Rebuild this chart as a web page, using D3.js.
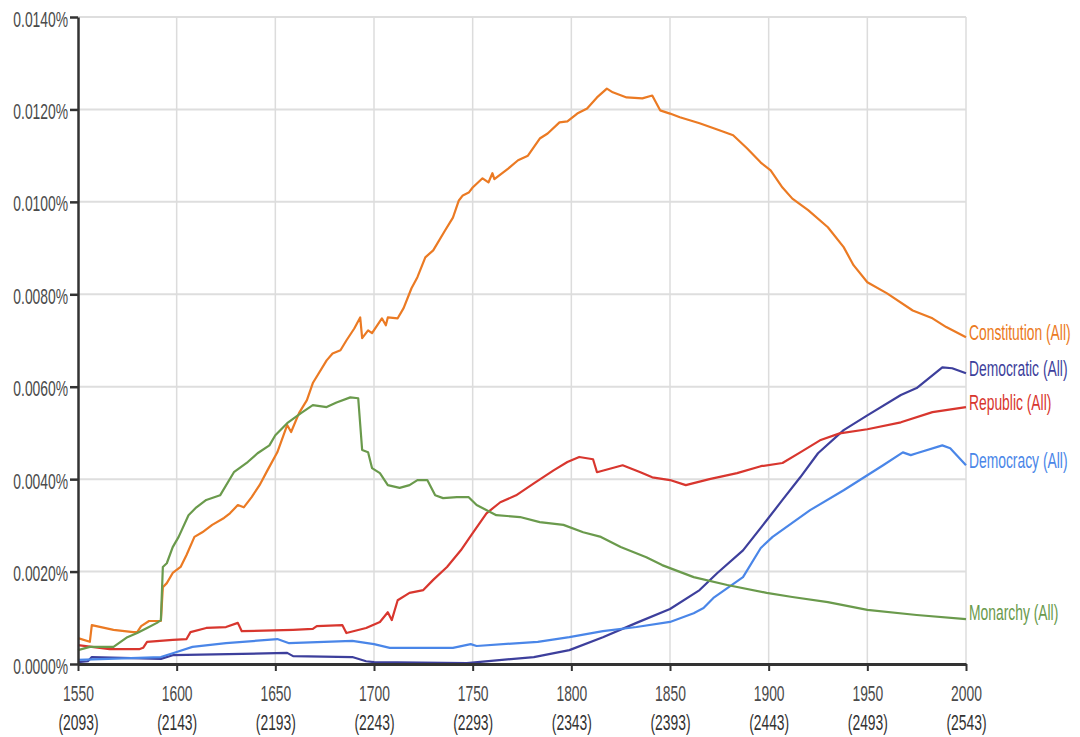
<!DOCTYPE html>
<meta charset="utf-8">
<html>
<head>
<script src="https://d3js.org/d3.v7.min.js"></script>
<style>
    body { margin: 0; background: white; }
    text { font-family: Arial, "Liberation Sans", sans-serif; }
</style>
</head>
<body>
<div id="chart"></div>
<script>
// ticks
var xTicks = [1550, 1600, 1650, 1700, 1750, 1800, 1850, 1900, 1950, 2000];
var xSubLabels = ["(2093)", "(2143)", "(2193)", "(2243)", "(2293)", "(2343)", "(2393)", "(2443)", "(2493)", "(2543)"];
var yTicks = [0, 0.002, 0.004, 0.006, 0.008, 0.010, 0.012, 0.014];

// series: [year, percent]
var constitution = [[1550,0.00056],[1556,0.00048],[1557,0.00084],[1568,0.00074],[1578,0.00069],[1580,0.00069],
    [1582,0.00082],[1586,0.00093],[1592,0.00093],[1593,0.00166],[1595,0.00175],[1598,0.00197],[1602,0.00210],
    [1605,0.00236],[1609,0.00275],[1613,0.00285],[1618,0.00301],[1624,0.00316],[1627,0.00326],[1631,0.00344],
    [1634,0.00339],[1638,0.00361],[1642,0.00387],[1646,0.00419],[1651,0.00458],[1656,0.00517],[1658,0.00502],
    [1662,0.00543],[1666,0.00571],[1669,0.00608],[1676,0.00657],[1679,0.00672],[1683,0.00679],[1686,0.00700],
    [1690,0.00726],[1693,0.00750],[1694,0.00705],[1697,0.00722],[1699,0.00716],[1704,0.00748],[1706,0.00733],
    [1707,0.00750],[1712,0.00748],[1715,0.00770],[1719,0.00813],[1722,0.00837],[1726,0.00880],[1730,0.00895],
    [1736,0.00938],[1740,0.00966],[1743,0.01003],[1745,0.01014],[1748,0.01020],[1750,0.01031],[1755,0.01051],
    [1758,0.01042],[1760,0.01062],[1761,0.01049],[1768,0.01072],[1773,0.01090],[1778,0.01100],[1784,0.01137],
    [1788,0.01148],[1794,0.01172],[1798,0.01174],[1803,0.01191],[1808,0.01202],[1813,0.01226],[1818,0.01245],
    [1821,0.01237],[1828,0.01226],[1836,0.01224],[1841,0.01230],[1845,0.01198],[1850,0.01191],[1855,0.01183],
    [1865,0.01170],[1875,0.01155],[1882,0.01144],[1889,0.01116],[1896,0.01085],[1901,0.01068],[1907,0.01031],
    [1912,0.01007],[1920,0.00982],[1930,0.00945],[1938,0.00902],[1943,0.00863],[1950,0.00826],[1960,0.00802],
    [1973,0.00765],[1983,0.00748],[1990,0.00729],[2000,0.00707]];

var democratic = [[1550,0.00004],[1555,0.00006],[1557,0.00015],[1592,0.00011],[1598,0.00019],[1656,0.00024],
    [1659,0.00017],[1689,0.00015],[1696,0.00006],[1700,0.00004],[1747,0.00002],[1781,0.00015],[1799,0.00030],
    [1816,0.00058],[1833,0.00089],[1850,0.00119],[1865,0.00160],[1874,0.00197],[1887,0.00246],[1899,0.00311],
    [1907,0.00355],[1916,0.00404],[1925,0.00456],[1938,0.00506],[1950,0.00538],[1967,0.00582],[1975,0.00597],
    [1988,0.00642],[1993,0.00640],[2000,0.00629]];

var republic = [[1550,0.00041],[1566,0.00032],[1581,0.00032],[1583,0.00035],[1585,0.00048],[1598,0.00052],
    [1605,0.00054],[1607,0.00069],[1615,0.00078],[1625,0.00080],[1631,0.00089],[1633,0.00071],[1659,0.00074],
    [1669,0.00076],[1671,0.00082],[1684,0.00084],[1686,0.00067],[1696,0.00078],[1703,0.00091],[1707,0.00112],
    [1709,0.00095],[1712,0.00138],[1718,0.00154],[1725,0.00160],[1730,0.00182],[1737,0.00210],[1744,0.00246],
    [1750,0.00283],[1757,0.00326],[1764,0.00350],[1772,0.00365],[1781,0.00391],[1791,0.00419],[1798,0.00437],
    [1804,0.00448],[1811,0.00443],[1813,0.00415],[1826,0.00430],[1835,0.00415],[1841,0.00404],[1850,0.00398],
    [1858,0.00387],[1870,0.00400],[1884,0.00413],[1896,0.00428],[1907,0.00435],[1916,0.00458],[1926,0.00484],
    [1936,0.00499],[1950,0.00508],[1967,0.00523],[1983,0.00545],[2000,0.00556]];

var democracy = [[1550,0.00009],[1592,0.00015],[1600,0.00026],[1608,0.00037],[1625,0.00045],[1651,0.00054],
    [1657,0.00045],[1689,0.00050],[1700,0.00043],[1708,0.00035],[1740,0.00035],[1749,0.00043],[1752,0.00039],
    [1783,0.00048],[1799,0.00058],[1816,0.00071],[1833,0.00080],[1850,0.00091],[1862,0.00110],[1867,0.00121],
    [1872,0.00143],[1887,0.00188],[1896,0.00251],[1902,0.00275],[1921,0.00333],[1938,0.00376],[1958,0.00430],
    [1968,0.00458],[1972,0.00452],[1975,0.00456],[1988,0.00473],[1992,0.00467],[2000,0.00430]];

var monarchy = [[1550,0.00030],[1556,0.00037],[1568,0.00037],[1575,0.00058],[1580,0.00067],[1585,0.00078],
    [1590,0.00089],[1592,0.00095],[1593,0.00210],[1595,0.00218],[1598,0.00253],[1601,0.00275],[1606,0.00322],
    [1610,0.00339],[1615,0.00355],[1622,0.00365],[1629,0.00415],[1636,0.00437],[1641,0.00456],[1647,0.00473],
    [1650,0.00495],[1656,0.00521],[1663,0.00543],[1669,0.00560],[1676,0.00556],[1681,0.00566],[1688,0.00577],
    [1692,0.00575],[1694,0.00463],[1697,0.00458],[1699,0.00424],[1703,0.00413],[1707,0.00387],[1713,0.00381],
    [1718,0.00387],[1722,0.00398],[1727,0.00398],[1731,0.00365],[1735,0.00359],[1742,0.00361],[1748,0.00361],
    [1752,0.00344],[1762,0.00322],[1774,0.00318],[1784,0.00307],[1796,0.00301],[1806,0.00285],[1815,0.00275],
    [1825,0.00253],[1838,0.00231],[1846,0.00214],[1862,0.00188],[1879,0.00171],[1899,0.00154],[1912,0.00145],
    [1930,0.00134],[1950,0.00117],[1975,0.00106],[2000,0.00097]];

var seriesNames = ["Constitution (All)", "Democratic (All)", "Republic (All)", "Democracy (All)", "Monarchy (All)"];
var seriesData = [constitution, democratic, republic, democracy, monarchy];
var seriesColors = ["#eb7a23", "#3d3f9c", "#d8362e", "#4a86e8", "#6a9a4c"];

var width = 1080, height = 737;
var plot = {left: 78, right: 966, top: 17, bottom: 664};
var squeeze = 0.63;   // text in the reference is tall and narrow
var fontSize = "22px";

var svg = d3.select("#chart").append("svg")
    .attr("width", width)
    .attr("height", height);

var x = d3.scaleLinear().domain([1550, 2000]).range([plot.left, plot.right]);
var y = d3.scaleLinear().domain([0, 0.014]).range([plot.bottom, plot.top]);

// gridlines
svg.append("g").selectAll("line").data(yTicks.slice(1)).enter().append("line")
    .attr("x1", plot.left).attr("x2", plot.right)
    .attr("y1", d => y(d)).attr("y2", d => y(d))
    .style("stroke", "#dedede").style("stroke-width", 2);
svg.append("g").selectAll("line").data(xTicks.slice(1)).enter().append("line")
    .attr("x1", d => x(d)).attr("x2", d => x(d))
    .attr("y1", plot.top).attr("y2", plot.bottom)
    .style("stroke", "#dcdcdc").style("stroke-width", 1.5);

// lines
var line = d3.line().x(d => x(d[0])).y(d => y(d[1]));
seriesData.forEach(function(s, i) {
    svg.append("path").datum(s)
        .attr("d", line)
        .style("fill", "none")
        .style("stroke", seriesColors[i])
        .style("stroke-width", 2.2)
        .style("stroke-linejoin", "round");
});

// y axis
var axisY = svg.append("g")
    .attr("transform", "translate(" + plot.left + ",0)")
    .call(d3.axisLeft(y).tickValues(yTicks).tickSize(8).tickSizeOuter(0)
        .tickFormat(d => d3.format(".4f")(d) + "%"));
axisY.select(".domain").style("stroke", "#333").style("stroke-width", 2.5);
axisY.selectAll(".tick line").style("stroke", "#333").style("stroke-width", 2.5);
axisY.selectAll(".tick text")
    .style("font-size", fontSize).style("fill", "#4a4a4a")
    .attr("x", -10 / squeeze)
    .attr("y", 2)
    .attr("transform", "scale(" + squeeze + ",1)");

// x axis
var axisX = svg.append("g")
    .attr("transform", "translate(0," + plot.bottom + ")")
    .call(d3.axisBottom(x).tickValues(xTicks).tickSize(7).tickSizeOuter(0).tickFormat(d3.format("d")));
axisX.select(".domain").style("stroke", "#333").style("stroke-width", 3);
axisX.selectAll(".tick line").style("stroke", "#333").style("stroke-width", 2);
axisX.selectAll(".tick text")
    .style("font-size", fontSize).style("fill", "#4a4a4a")
    .attr("y", 29).attr("dy", "0.35em")
    .attr("transform", "scale(" + squeeze + ",1)");
axisX.selectAll(".tick").append("text")
    .attr("y", 58)
    .attr("dy", "0.35em")
    .attr("transform", "scale(" + squeeze + ",1)")
    .style("font-size", fontSize)
    .style("fill", "#333")
    .style("text-anchor", "middle")
    .text((d, i) => xSubLabels[i]);

// series labels at the right end
var labelOffsets = [-5, -5, -5, -5, -7];
svg.append("g").selectAll("text").data(seriesData).enter().append("text")
    .attr("transform", function(d, i) {
        var ly = y(d[d.length - 1][1]) + labelOffsets[i];
        return "translate(" + (plot.right + 3) + "," + ly + ") scale(" + squeeze + ",1)";
    })
    .attr("dy", "0.35em")
    .style("font-size", fontSize)
    .style("fill", (d, i) => seriesColors[i])
    .text((d, i) => seriesNames[i]);
</script>
</body>
</html>
